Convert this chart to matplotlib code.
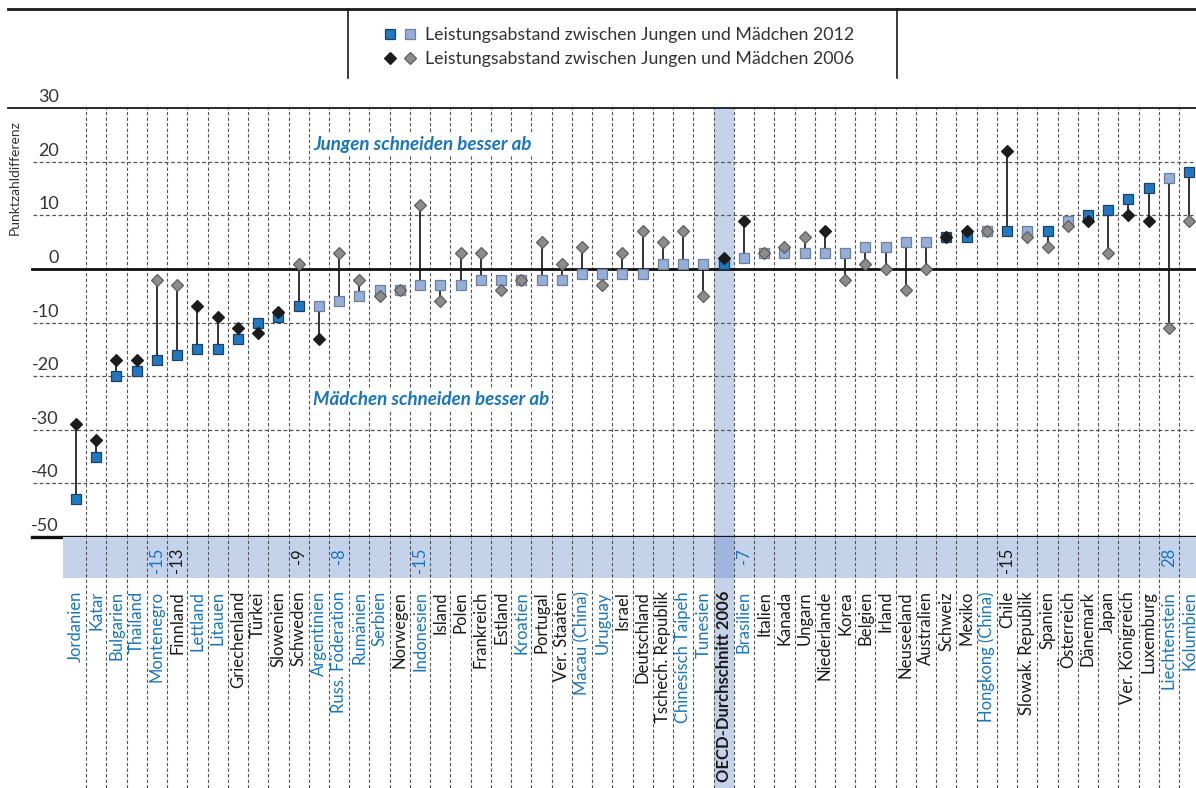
import matplotlib
matplotlib.use("Agg")
import matplotlib.pyplot as plt
from matplotlib.lines import Line2D
from matplotlib.patches import Rectangle
from matplotlib.legend_handler import HandlerTuple

# ---------------- data ----------------
countries = ["Jordanien", "Katar", "Bulgarien", "Thailand", "Montenegro", "Finnland",
             "Lettland", "Litauen", "Griechenland", "Türkei", "Slowenien", "Schweden",
             "Argentinien", "Russ. Föderation", "Rumänien", "Serbien", "Norwegen",
             "Indonesien", "Island", "Polen", "Frankreich", "Estland", "Kroatien",
             "Portugal", "Ver. Staaten", "Macau (China)", "Uruguay", "Israel",
             "Deutschland", "Tschech. Republik", "Chinesisch Taipeh", "Tunesien",
             "OECD-Durchschnitt 2006", "Brasilien", "Italien", "Kanada", "Ungarn",
             "Niederlande", "Korea", "Belgien", "Irland", "Neuseeland", "Australien",
             "Schweiz", "Mexiko", "Hongkong (China)", "Chile", "Slowak. Republik",
             "Spanien", "Österreich", "Dänemark", "Japan", "Ver. Königreich",
             "Luxemburg", "Liechtenstein", "Kolumbien"]

gap_2012 = [-43, -35, -20, -19, -17, -16, -15, -15, -13, -10, -9, -7,
            -7, -6, -5, -4, -4, -3, -3, -3, -2, -2, -2, -2, -2, -1, -1, -1,
            -1, 1, 1, 1, 1, 2, 3, 3, 3, 3, 3, 4, 4, 5, 5, 6, 6, 7, 7, 7,
            7, 9, 10, 11, 13, 15, 17, 18]

gap_2006 = [-29, -32, -17, -17, -2, -3, -7, -9, -11, -12, -8, 1,
            -13, 3, -2, -5, -4, 12, -6, 3, 3, -4, -2, 5, 1, 4, -3, 3,
            7, 5, 7, -5, 2, 9, 3, 4, 6, 7, -2, 1, 0, -4, 0, 6, 7, 7, 22, 6,
            4, 8, 9, 3, 10, 9, -11, 9]

sig_2012 = [1, 1, 1, 1, 1, 1, 1, 1, 1, 1, 1, 1,
            0, 0, 0, 0, 0, 0, 0, 0, 0, 0, 0, 0, 0, 0, 0, 0,
            0, 0, 0, 0, 1, 0, 0, 0, 0, 0, 0, 0, 0, 0, 0, 1, 1, 0, 1, 0,
            1, 0, 1, 1, 1, 1, 0, 1]

sig_2006 = [1, 1, 1, 1, 0, 0, 1, 1, 1, 1, 1, 0,
            1, 0, 0, 0, 0, 0, 0, 0, 0, 0, 0, 0, 0, 0, 0, 0,
            0, 0, 0, 0, 1, 1, 0, 0, 0, 1, 0, 0, 0, 0, 0, 1, 1, 0, 1, 0,
            0, 0, 1, 0, 1, 1, 0, 0]

partner = ["Jordanien", "Katar", "Bulgarien", "Thailand", "Montenegro", "Lettland",
           "Litauen", "Argentinien", "Russ. Föderation", "Rumänien", "Serbien",
           "Indonesien", "Kroatien", "Macau (China)", "Uruguay", "Chinesisch Taipeh",
           "Tunesien", "Brasilien", "Hongkong (China)", "Liechtenstein", "Kolumbien"]

change_labels = {"Montenegro": "-15", "Finnland": "-13", "Schweden": "-9",
                 "Russ. Föderation": "-8", "Indonesien": "-15", "Brasilien": "-7",
                 "Chile": "-15", "Liechtenstein": "28"}

y_ticks = [30, 20, 10, 0, -10, -20, -30, -40, -50]

# ---------------- style ----------------
W, H = 1196, 788
FONT = "Lato"
DARK_SQ, DARK_SQ_E = "#1f78c1", "#22405f"
LIGHT_SQ, LIGHT_SQ_E = "#94afdc", "#6f7f96"
BLACK_D, BLACK_D_E = "#1c1c1c", "#1c1c1c"
GRAY_D, GRAY_D_E = "#8c8c8c", "#5e5e5e"
BLUE_TXT = "#1a75bc"
BAND = "#c5d3ea"
BAND_DARK = "#9fb5dd"
GRID = "#555555"
TXT = "#333333"

plt.rcParams["font.family"] = [FONT, "DejaVu Sans"]

x0_px, step_px = 76.0, 20.24


def fx(px):
    return px / W


def fy(py):
    return 1 - py / H


def dx(px):
    return (px - x0_px) / step_px


fig = plt.figure(figsize=(W / 100, H / 100), dpi=100)

xlim = (dx(8), dx(W))
ax = fig.add_axes([fx(8), fy(537), fx(W) - fx(8), fy(108) - fy(537)])
ax.set_xlim(*xlim)
ax.set_ylim(-50, 30)
for s in ["left", "right", "bottom"]:
    ax.spines[s].set_visible(False)
ax.spines["top"].set_linewidth(1.3)
ax.spines["top"].set_color("#1a1a1a")
ax.set_xticks([])
ax.set_yticks([])
ax.patch.set_alpha(0)

n = len(countries)
xs = list(range(n))
oecd_i = countries.index("OECD-Durchschnitt 2006")

# OECD column highlight
ax.axvspan(oecd_i - 0.5, oecd_i + 0.5, color=BAND, lw=0, zorder=0)

# horizontal grid
for v in [20, 10, -10, -20, -30, -40]:
    ax.plot([dx(33), xlim[1]], [v, v], color=GRID, lw=0.9, ls=(0, (3, 2)), zorder=1)
ax.plot([dx(32), xlim[1]], [0, 0], color="#111111", lw=2.0, zorder=2)
ax.plot([dx(32), xlim[1]], [-50, -50], color="#111111", lw=2.4, zorder=2, clip_on=False)

# vertical grid
for i in range(n - 1):
    ax.axvline(i + 0.5, color=GRID, lw=0.8, ls=(0, (3, 2)), zorder=1)

# y tick labels
for v in y_ticks:
    ax.text(dx(59), v + 0.55, str(v), ha="right", va="bottom", fontsize=13,
            color=TXT, zorder=3)

ax.text(fx(15), fy(178), "Punktzahldifferenz", transform=fig.transFigure,
        rotation=90, ha="center", va="center", fontsize=10, color=TXT)

# connectors
ax.vlines(xs, gap_2012, gap_2006, color="#111111", lw=1.2, zorder=3)

# squares
for flag, fc, ec in [(1, DARK_SQ, DARK_SQ_E), (0, LIGHT_SQ, LIGHT_SQ_E)]:
    xi = [x for x, s in zip(xs, sig_2012) if s == flag]
    yi = [g for g, s in zip(gap_2012, sig_2012) if s == flag]
    ax.plot(xi, yi, ls="none", marker="s", ms=7.0, mfc=fc, mec=ec, mew=0.9, zorder=4)

# diamonds
for flag, fc, ec in [(1, BLACK_D, BLACK_D_E), (0, GRAY_D, GRAY_D_E)]:
    xi = [x for x, s in zip(xs, sig_2006) if s == flag]
    yi = [g for g, s in zip(gap_2006, sig_2006) if s == flag]
    ax.plot(xi, yi, ls="none", marker="D", ms=6.5, mfc=fc, mec=ec, mew=0.9, zorder=5)

# annotations
box = dict(facecolor="white", edgecolor="none", pad=1.5)
ax.text(dx(313), (269 - 145) / 5.36, "Jungen schneiden besser ab", ha="left",
        va="center", fontsize=13.5, fontweight="bold", fontstyle="italic",
        color=BLUE_TXT, bbox=box, zorder=6)
ax.text(dx(313), (269 - 400) / 5.36, "Mädchen schneiden besser ab", ha="left",
        va="center", fontsize=13.5, fontweight="bold", fontstyle="italic",
        color=BLUE_TXT, bbox=box, zorder=6)

# ---------------- bottom strip & labels ----------------
axb = fig.add_axes([fx(8), 0, fx(W) - fx(8), fy(537)])
axb.set_xlim(*xlim)
axb.set_ylim(H - 537, 0)
axb.axis("off")

axb.add_patch(Rectangle((dx(63), 0), xlim[1] - dx(63), 41, color=BAND, lw=0, zorder=0))
axb.add_patch(Rectangle((oecd_i - 0.5, 0), 1, 41, color=BAND_DARK, lw=0, zorder=0))
axb.add_patch(Rectangle((oecd_i - 0.5, 41), 1, H - 537 - 41, color=BAND, lw=0, zorder=0))
for i in range(n - 1):
    axb.axvline(i + 0.5, color=GRID, lw=0.8, ls=(0, (3, 2)), zorder=1)

for i, c in enumerate(countries):
    col = BLUE_TXT if c in partner else "#1a1a1a"
    fw = "bold" if i == oecd_i else "normal"
    axb.text(i, 54, c, rotation=90, ha="center", va="top", fontsize=12,
             color=col, fontweight=fw, zorder=3)
    if c in change_labels:
        axb.text(i, 11, change_labels[c], rotation=90, ha="center", va="top",
                 fontsize=12, color=col, zorder=3)

# ---------------- legend frame ----------------
fig.add_artist(Line2D([fx(8), fx(W)], [fy(9), fy(9)], color="#1a1a1a", lw=2.0))
for xp in [348, 897]:
    fig.add_artist(Line2D([fx(xp), fx(xp)], [fy(9), fy(78)], color="#1a1a1a", lw=1.2))

h_dsq = Line2D([], [], ls="none", marker="s", ms=7.0, mfc=DARK_SQ, mec=DARK_SQ_E, mew=0.9)
h_lsq = Line2D([], [], ls="none", marker="s", ms=7.0, mfc=LIGHT_SQ, mec=LIGHT_SQ_E, mew=0.9)
h_bd = Line2D([], [], ls="none", marker="D", ms=6.5, mfc=BLACK_D, mec=BLACK_D_E, mew=0.9)
h_gd = Line2D([], [], ls="none", marker="D", ms=6.5, mfc=GRAY_D, mec=GRAY_D_E, mew=0.9)
fig.legend(handles=[(h_dsq, h_lsq), (h_bd, h_gd)],
           labels=["Leistungsabstand zwischen Jungen und Mädchen 2012",
                   "Leistungsabstand zwischen Jungen und Mädchen 2006"],
           handler_map={tuple: HandlerTuple(ndivide=None, pad=0.4)},
           loc="upper left", bbox_to_anchor=(fx(384), fy(27)), borderaxespad=0,
           borderpad=0, frameon=False, fontsize=12.8, handlelength=1.8,
           handletextpad=0.5, labelspacing=0.45, labelcolor=TXT)

fig.savefig("out.png", dpi=100)
